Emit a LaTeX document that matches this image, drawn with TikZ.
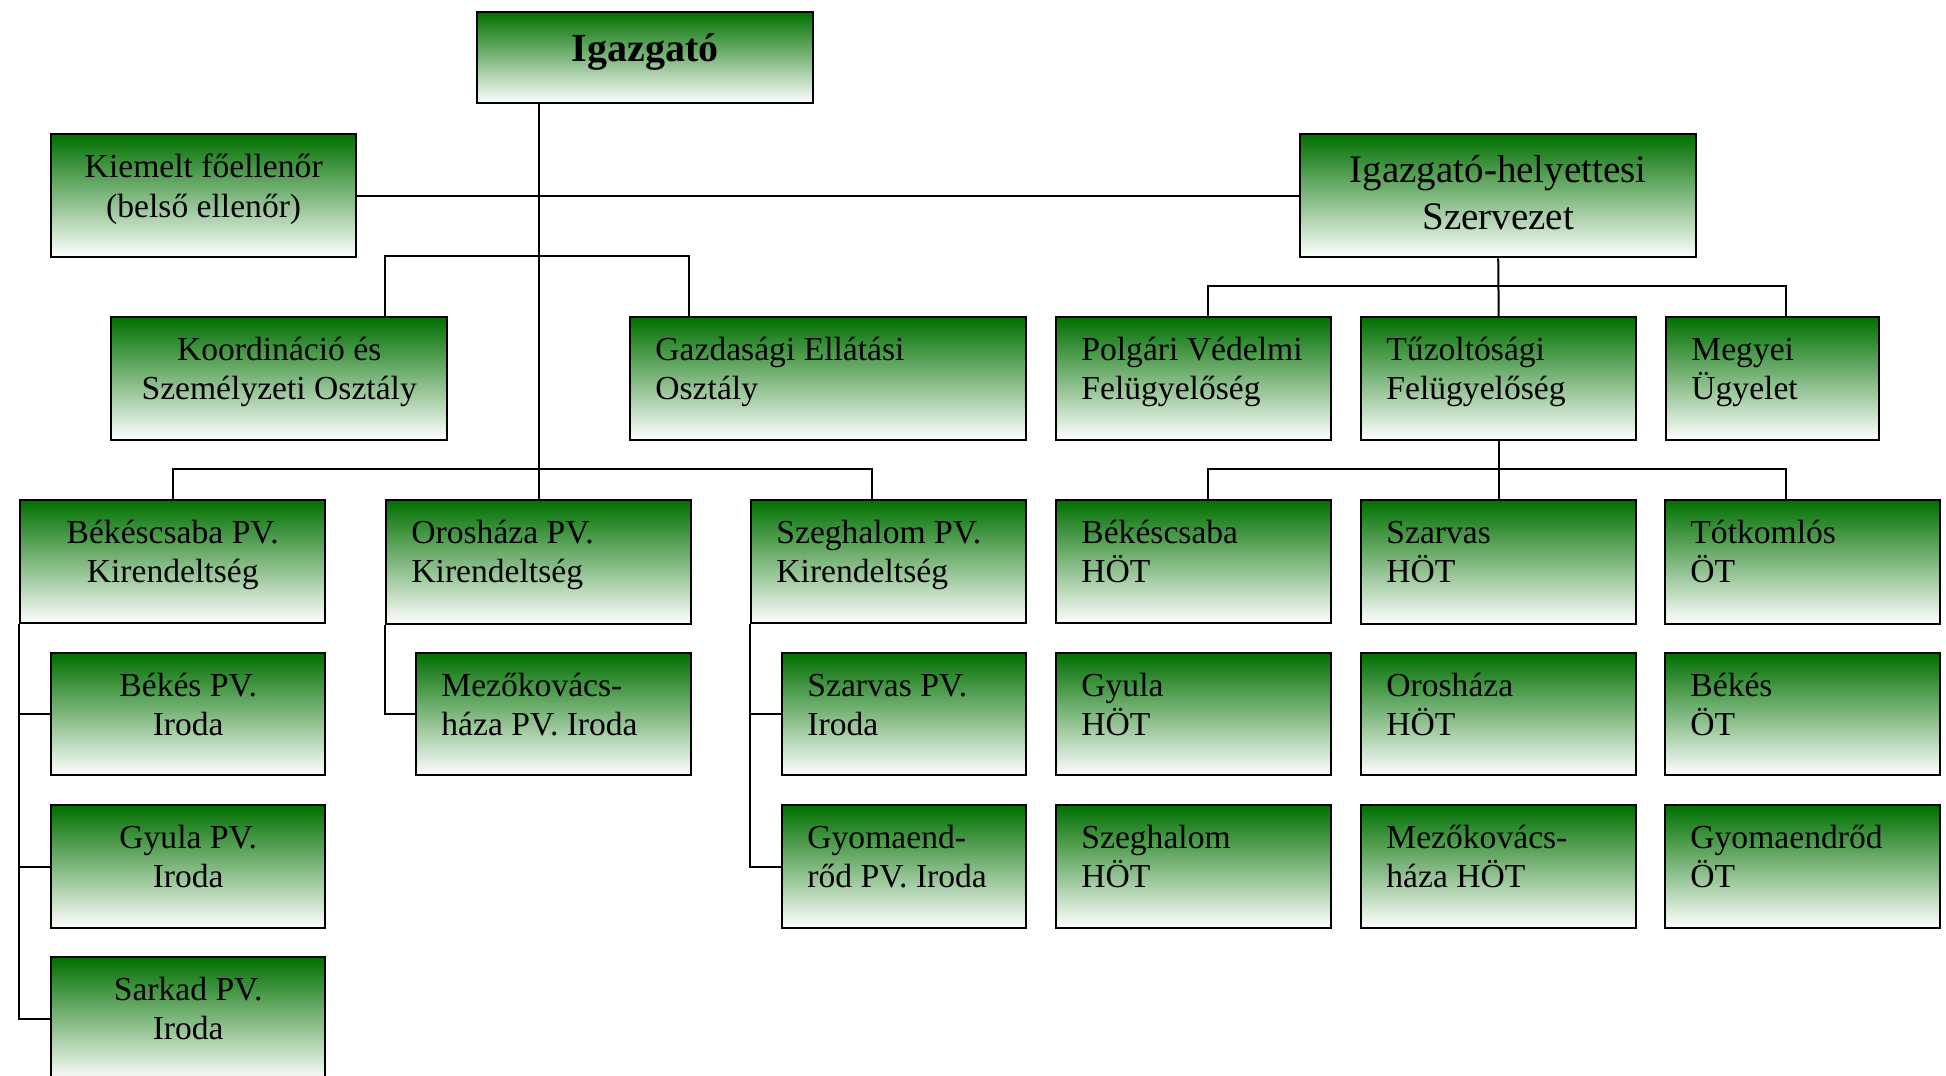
\documentclass[tikz,border=0pt]{standalone}
\usepackage{fontspec}
\setmainfont{Liberation Serif}
\usetikzlibrary{calc}
\definecolor{boxgreen}{RGB}{0,112,0}
\tikzset{
  x=0.5pt, y=-0.5pt,
  box/.style={draw=black, line width=1.2pt, rectangle, inner sep=0pt,
    top color=boxgreen, bottom color=white, anchor=north west},
  lbl/.style={inner sep=0pt, text=black, font=\fontsize{16.8}{19.8}\selectfont},
  biglbl/.style={inner sep=0pt, text=black, font=\fontsize{19.5}{23.5}\selectfont},
  toplbl/.style={inner sep=0pt, text=black, font=\fontsize{20}{24}\selectfont\bfseries},
  conn/.style={line width=1pt, draw=black},
}
\newcommand\orgbox[5]{%
  \pgfmathsetmacro\bw{(#4-#2)*0.5}%
  \pgfmathsetmacro\bh{(#5-#3)*0.5}%
  \node[box, minimum width=\bw pt, minimum height=\bh pt] (#1) at (#2,#3) {};}
\newcommand\ctext[3]{\node[lbl,anchor=base] (#1-t) at ($(#1.north)+(0,#2)$) {\begin{tabular}[t]{@{}c@{}}#3\end{tabular}};}
\newcommand\ltext[3]{\node[lbl,anchor=base west] (#1-t) at ($(#1.north west)+(26,#2)$) {\begin{tabular}[t]{@{}l@{}}#3\end{tabular}};}
\begin{document}
\begin{tikzpicture}
\fill[white] (0,0) rectangle (1946,1075);
\useasboundingbox (0,0) rectangle (1946,1075);
% boxes
\orgbox{igaz}{476}{11}{812}{102}
\orgbox{kiem}{50}{133}{355}{256}
\orgbox{ih}{1299}{133}{1695}{256}
\orgbox{koord}{110}{316}{446}{439}
\orgbox{gazd}{629}{316}{1025}{439}
\orgbox{polg}{1055}{316}{1330}{439}
\orgbox{tuz}{1360}{316}{1635}{439}
\orgbox{megy}{1665}{316}{1878}{439}
% row 3
\orgbox{bcspv}{19}{499}{324}{622}
\orgbox{oros}{385}{499}{690}{623}
\orgbox{szeg}{750}{499}{1025}{622}
\orgbox{bcshot}{1055}{499}{1330}{622}
\orgbox{szhot}{1360}{499}{1635}{623}
\orgbox{tot}{1664}{499}{1939}{623}
% row 4
\orgbox{bekes}{50}{652}{324}{774}
\orgbox{mezo}{415}{652}{690}{774}
\orgbox{szpv}{781}{652}{1025}{774}
\orgbox{gyhot}{1055}{652}{1330}{774}
\orgbox{orhot}{1360}{652}{1635}{774}
\orgbox{bkot}{1664}{652}{1939}{774}
% row 5
\orgbox{gyula}{50}{804}{324}{927}
\orgbox{gyom}{781}{804}{1025}{927}
\orgbox{szghot}{1055}{804}{1330}{927}
\orgbox{mzhot}{1360}{804}{1635}{927}
\orgbox{gyot}{1664}{804}{1939}{927}
% row 6
\orgbox{sark}{50}{956}{324}{1080}
% texts
\node[toplbl,anchor=base] (igaz-t) at ($(igaz.north)+(0,51)$) {Igazgató};
\ctext{kiem}{45}{Kiemelt főellenőr\\(belső ellenőr)}
\node[biglbl,anchor=base] (ih-t) at ($(ih.north)+(0,50)$) {\begin{tabular}[t]{@{}c@{}}Igazgató-helyettesi\\Szervezet\end{tabular}};
\ctext{koord}{44}{Koordináció és\\Személyzeti Osztály}
\ltext{gazd}{44}{Gazdasági Ellátási\\Osztály}
\ltext{polg}{44}{Polgári Védelmi\\Felügyelőség}
\ltext{tuz}{44}{Tűzoltósági\\Felügyelőség}
\ltext{megy}{44}{Megyei\\Ügyelet}
\ctext{bcspv}{44}{Békéscsaba PV.\\Kirendeltség}
\ltext{oros}{44}{Orosháza PV.\\Kirendeltség}
\ltext{szeg}{44}{Szeghalom PV.\\Kirendeltség}
\ltext{bcshot}{44}{Békéscsaba\\HÖT}
\ltext{szhot}{44}{Szarvas\\HÖT}
\ltext{tot}{44}{Tótkomlós\\ÖT}
\ctext{bekes}{44}{Békés PV.\\Iroda}
\ltext{mezo}{44}{Mezőkovács-\\háza PV. Iroda}
\ltext{szpv}{44}{Szarvas PV.\\Iroda}
\ltext{gyhot}{44}{Gyula\\HÖT}
\ltext{orhot}{44}{Orosháza\\HÖT}
\ltext{bkot}{44}{Békés\\ÖT}
\ctext{gyula}{44}{Gyula PV.\\Iroda}
\ltext{gyom}{44}{Gyomaend-\\rőd PV. Iroda}
\ltext{szghot}{44}{Szeghalom\\HÖT}
\ltext{mzhot}{44}{Mezőkovács-\\háza HÖT}
\ltext{gyot}{44}{Gyomaendrőd\\ÖT}
\ctext{sark}{44}{Sarkad PV.\\Iroda}
% connectors
\draw[conn] (oros.north) -- (oros.north |- igaz.south);
\draw[conn] (kiem.east) -- (ih.west);
\draw[conn] ($(koord.north west)+(275,0)$) |- ($(gazd.north west)+(60,-60.5)$) -- ($(gazd.north west)+(60,0)$);
\draw[conn] (bcspv.north) |- ($(szeg.north west)+(122,-30)$) -- ($(szeg.north west)+(122,0)$);
\draw[conn] (ih.south) -- (tuz.north);
\draw[conn] ($(polg.north west)+(153,0)$) |- ($(megy.north west)+(121,-30)$) -- ($(megy.north west)+(121,0)$);
\draw[conn] (tuz.south) -- (szhot.north);
\draw[conn] ($(bcshot.north west)+(153,0)$) |- ($(tot.north west)+(122,-30)$) -- ($(tot.north west)+(122,0)$);
\draw[conn] (bcspv.south west) |- (sark.west);
\draw[conn] (bcspv.south west |- bekes.west) -- (bekes.west);
\draw[conn] (bcspv.south west |- gyula.west) -- (gyula.west);
\draw[conn] (oros.south west) |- (mezo.west);
\draw[conn] (szeg.south west) |- (gyom.west);
\draw[conn] (szeg.south west |- szpv.west) -- (szpv.west);
\end{tikzpicture}
\end{document}
